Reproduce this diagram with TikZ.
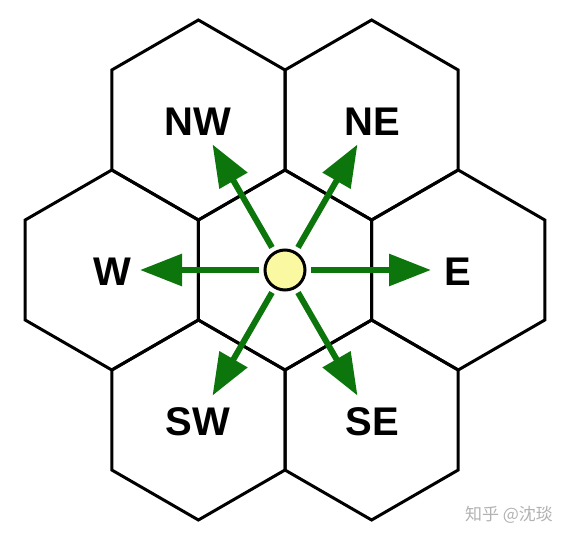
\documentclass[tikz,border=0pt]{standalone}
\usepackage{fontspec}
\setmainfont{Liberation Sans}
\newfontfamily\cjk{Noto Sans CJK SC}
\usetikzlibrary{arrows.meta}
\definecolor{arrowgreen}{RGB}{12,118,12}
\definecolor{dotyellow}{RGB}{250,248,160}
\tikzset{
  hexline/.style={line width=3pt, line join=miter},
  dirarrow/.style={draw=arrowgreen, line width=6pt, shorten <=4.5pt,
    -{Triangle[length=42pt,width=31pt]}},
  dirlabel/.style={font=\fontsize{40}{42}\selectfont\bfseries},
  centerdot/.style={circle, draw=black, line width=3pt, fill=dotyellow,
    minimum size=40pt, inner sep=0pt}
}
\begin{document}
\begin{tikzpicture}[x=1pt,y=-1pt]
\useasboundingbox (0,0) rectangle (570,540);
\foreach \cx/\cy in {285/270, 198.4/120, 371.6/120, 111.8/270, 458.2/270, 198.4/420, 371.6/420}{
  \draw[hexline] (\cx,\cy-100) -- (\cx+86.6,\cy-50) -- (\cx+86.6,\cy+50)
    -- (\cx,\cy+100) -- (\cx-86.6,\cy+50) -- (\cx-86.6,\cy-50) -- cycle;
}
\node[centerdot] (c) at (285,270) {};
\coordinate (tNW) at (212.5,144.4);
\coordinate (tNE) at (357.5,144.4);
\coordinate (tW) at (140,270);
\coordinate (tE) at (431,270);
\coordinate (tSW) at (212.5,395.6);
\coordinate (tSE) at (357.5,395.6);
\foreach \t in {tNW,tNE,tW,tE,tSW,tSE}{
  \draw[dirarrow] (c) -- (\t);
}
\node[dirlabel] (lNW) at (198,122) {NW};
\node[dirlabel] (lNE) at (372,122) {NE};
\node[dirlabel] (lW) at (112,272) {W};
\node[dirlabel] (lE) at (458,272) {E};
\node[dirlabel] (lSW) at (198,422) {SW};
\node[dirlabel] (lSE) at (372,422) {SE};
\node[font=\cjk\fontsize{17}{19}\selectfont, text=black!30] (wm) at (509,515) {知乎 @沈琰};
\end{tikzpicture}
\end{document}
